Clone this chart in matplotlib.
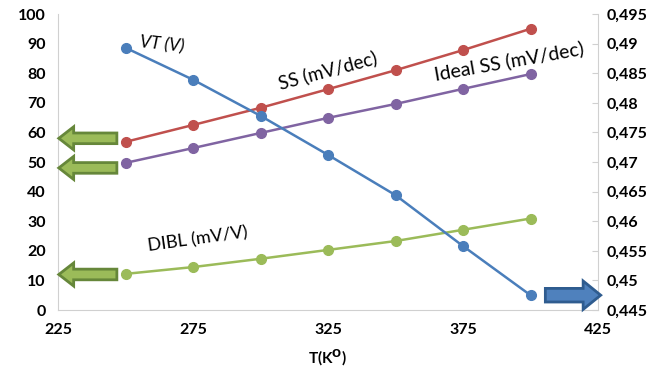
import matplotlib.pyplot as plt
from matplotlib.patches import FancyArrow
from matplotlib.ticker import FuncFormatter

plt.rcParams['font.family'] = ['Lato', 'DejaVu Sans']

temps = [250, 275, 300, 325, 350, 375, 400]
ss = [56.8, 62.5, 68.3, 74.6, 81.0, 87.8, 95.0]
ideal_ss = [49.7, 54.7, 59.8, 64.9, 69.6, 74.7, 79.7]
dibl = [12.2, 14.5, 17.3, 20.3, 23.3, 27.1, 30.9]
vt = [0.4893, 0.4839, 0.4778, 0.4712, 0.4644, 0.4558, 0.4475]

x_ticks = [225, 275, 325, 375, 425]
left_ticks = list(range(0, 101, 10))
right_ticks = [0.445, 0.45, 0.455, 0.46, 0.465, 0.47, 0.475, 0.48, 0.485, 0.49, 0.495]

blue = '#4A7EBB'
red = '#C0504D'
purple = '#8064A2'
green = '#9BBB59'
grey = '#D0D0D0'

fig = plt.figure(figsize=(6.58, 3.76), dpi=100)
ax = fig.add_axes([58 / 658, 1 - 310 / 376, 540 / 658, 296 / 376])
ax2 = ax.twinx()

ax.plot(temps, ss, color=red, marker='o', ms=7, lw=1.8)
ax.plot(temps, ideal_ss, color=purple, marker='o', ms=7, lw=1.8)
ax.plot(temps, dibl, color=green, marker='o', ms=7, lw=1.8)
ax2.plot(temps, vt, color=blue, marker='o', ms=7, lw=1.8)

ax.set_xlim(225, 425)
ax.set_ylim(0, 100)
ax2.set_ylim(0.445, 0.495)
ax.set_xticks(x_ticks)
ax.set_yticks(left_ticks)
ax2.set_yticks(right_ticks)
ax2.yaxis.set_major_formatter(FuncFormatter(lambda v, p: ('%g' % v).replace('.', ',')))

for a in (ax, ax2):
    for s in a.spines.values():
        s.set_visible(False)
    a.tick_params(labelsize=11.5, colors='black')
    for lab in a.get_xticklabels() + a.get_yticklabels():
        lab.set_fontweight('bold')
ax.spines['left'].set_visible(True)
ax.spines['left'].set_color(grey)
ax.spines['bottom'].set_visible(True)
ax.spines['bottom'].set_color(grey)
ax2.spines['right'].set_visible(True)
ax2.spines['right'].set_color(grey)
ax.tick_params(axis='both', length=0, pad=9)
ax2.tick_params(axis='y', direction='in', length=4, color=grey, pad=6)

ax.set_xlabel(r'T(K$^{\mathbf{O}}$)', fontsize=11, fontweight='bold', labelpad=8)

# curve labels
ax.text(255, 89.5, 'VT (V)', fontsize=12.5, style='italic', rotation=-6, va='center')
ax.text(306, 81, 'SS (mV/dec)', fontsize=13.5, rotation=15, va='center')
ax.text(364, 84, 'Ideal SS (mV/dec)', fontsize=14, rotation=10, va='center')
ax.text(258, 24, 'DIBL (mV/V)', fontsize=13, rotation=8, va='center')

# arrows pointing to the axes
for y in [58, 48, 12]:
    ax.add_patch(FancyArrow(246.8, y, -21.5, 0, width=3.6, head_width=7.8,
                            head_length=5.5, length_includes_head=True,
                            fc=green, ec='#66873A', lw=2, clip_on=False, zorder=5))
ax2.add_patch(FancyArrow(405.5, 0.4475, 20.5, 0, width=0.0023, head_width=0.0048,
                         head_length=6.5, length_includes_head=True,
                         fc='#4F81BD', ec='#2F5C8F', lw=2, clip_on=False, zorder=5))

fig.savefig('out.png', dpi=100)
